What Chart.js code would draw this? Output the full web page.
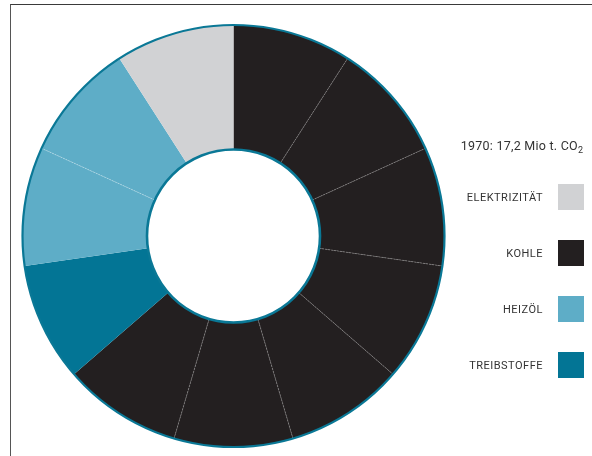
<!DOCTYPE html>
<html>
<head>
<meta charset="utf-8">
<script src="https://cdn.jsdelivr.net/npm/chart.js@4/dist/chart.umd.min.js"></script>
<style>
  html, body { margin: 0; padding: 0; background: #fff; }
  #wrap { position: relative; width: 592px; height: 456px; overflow: hidden; }
  #frame { position: absolute; left: 10px; top: 4px; right: -10px; bottom: -10px;
           border-top: 1.5px solid #3a3a3a; border-left: 1.5px solid #555; }
  canvas { position: absolute; left: 0; top: 0; }
</style>
</head>
<body>
<div id="wrap">
  <div id="frame"></div>
  <canvas id="c" width="592" height="456"></canvas>
</div>
<script>
// Legend categories and their colours
const categories = ['ELEKTRIZITÄT', 'KOHLE', 'HEIZÖL', 'TREIBSTOFFE'];
const colors = ['#d1d2d4', '#231f20', '#5eadc7', '#037595'];
// Number of equal ring segments (units of CO2) per category
const units = [1, 7, 2, 1];
// Order of categories around the ring, clockwise from 12 o'clock
const ringOrder = ['KOHLE', 'TREIBSTOFFE', 'HEIZÖL', 'ELEKTRIZITÄT'];
const titleText = '1970: 17,2 Mio t. CO';
const titleSub = '2';
const ringColor = '#0a7896';

// Expand categories into individual segments
const segCat = [];
const segValues = [];
const segColors = [];
ringOrder.forEach(name => {
  const k = categories.indexOf(name);
  for (let i = 0; i < units[k]; i++) {
    segCat.push(name);
    segValues.push(1);
    segColors.push(colors[k]);
  }
});

const ringPlugin = {
  id: 'ringDecor',
  afterDatasetsDraw(chart) {
    const arcs = chart.getDatasetMeta(0).data;
    const n = arcs.length;
    const ctx = chart.ctx;
    const p = arcs[0].getProps(['x', 'y', 'innerRadius', 'outerRadius'], true);
    ctx.save();
    // thin separators between segments of the same category
    for (let i = 0; i < n; i++) {
      const j = (i + 1) % n;
      if (segCat[i] !== segCat[j]) continue;
      const ang = arcs[i].getProps(['endAngle'], true).endAngle;
      const c = Math.cos(ang), s = Math.sin(ang);
      ctx.beginPath();
      ctx.moveTo(p.x + c * p.innerRadius, p.y + s * p.innerRadius);
      ctx.lineTo(p.x + c * p.outerRadius, p.y + s * p.outerRadius);
      ctx.strokeStyle = segCat[i] === 'KOHLE' ? 'rgba(150,148,149,0.85)' : 'rgba(255,255,255,0.45)';
      ctx.setLineDash([2, 1]);
      ctx.lineWidth = 0.7;
      ctx.stroke();
    }
    ctx.setLineDash([]);
    // outer and inner outline rings
    ctx.strokeStyle = ringColor;
    ctx.lineWidth = 2.2;
    ctx.beginPath();
    ctx.arc(p.x, p.y, p.outerRadius, 0, Math.PI * 2);
    ctx.stroke();
    ctx.lineWidth = 2.6;
    ctx.beginPath();
    ctx.arc(p.x, p.y, p.innerRadius, 0, Math.PI * 2);
    ctx.stroke();
    ctx.restore();
  }
};

const legendPlugin = {
  id: 'sideLegend',
  afterDraw(chart) {
    const ctx = chart.ctx;
    ctx.save();
    ctx.fillStyle = '#333';
    ctx.textBaseline = 'alphabetic';
    ctx.textAlign = 'right';
    // title with subscript
    const right = 583;
    ctx.font = '9px Roboto';
    const subW = ctx.measureText(titleSub).width;
    ctx.fillText(titleSub, right, 153);
    ctx.font = '12.5px Roboto';
    ctx.letterSpacing = '0.25px';
    ctx.fillText(titleText, right - subW, 150);
    // legend rows
    ctx.font = '11px Roboto';
    ctx.letterSpacing = '0.5px';
    ctx.textBaseline = 'middle';
    categories.forEach((name, i) => {
      const cy = 197 + i * 56;
      ctx.fillStyle = colors[i];
      ctx.fillRect(558, cy - 13, 26, 26);
      ctx.fillStyle = '#333';
      ctx.fillText(name, 543, cy + 1);
    });
    ctx.restore();
  }
};

new Chart(document.getElementById('c'), {
  type: 'doughnut',
  data: {
    labels: segCat,
    datasets: [{
      data: segValues,
      backgroundColor: segColors,
      borderWidth: 0,
      hoverOffset: 0,
      offset: 0
    }]
  },
  options: {
    responsive: false,
    animation: false,
    cutout: '41%',
    layout: { padding: { left: 22, right: 147, top: 25, bottom: 9 } },
    plugins: { legend: { display: false }, tooltip: { enabled: false } },
    events: []
  },
  plugins: [ringPlugin, legendPlugin]
});
</script>
</body>
</html>
